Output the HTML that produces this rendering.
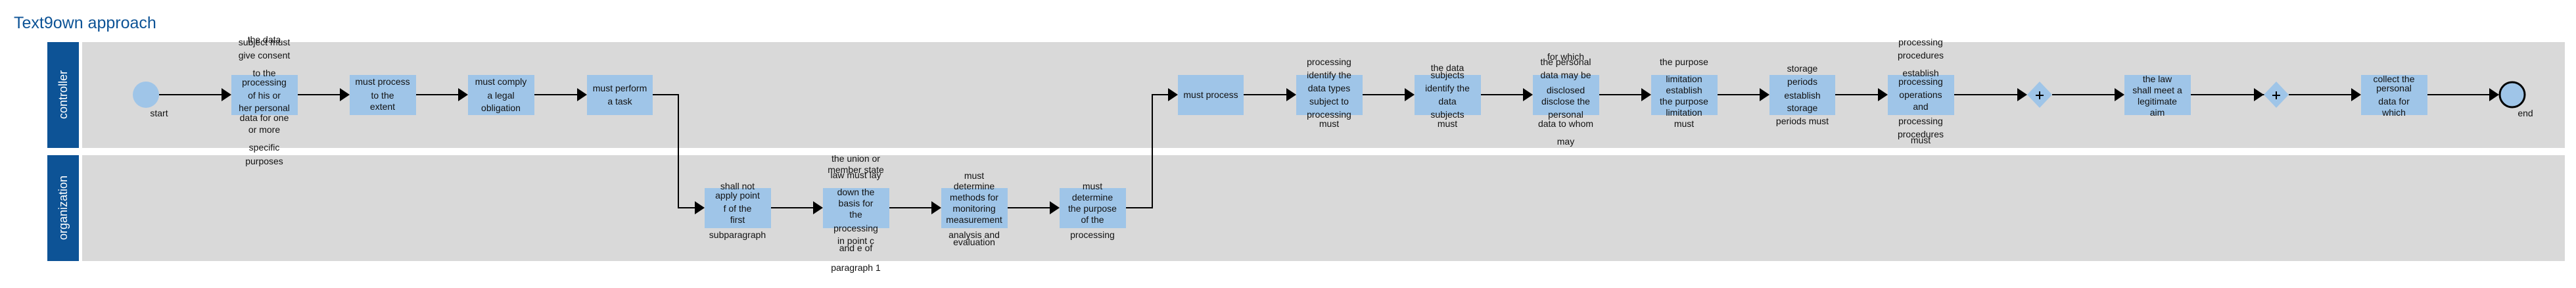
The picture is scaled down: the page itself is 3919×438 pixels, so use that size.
<!DOCTYPE html>
<html><head><meta charset="utf-8"><style>
html,body{margin:0;padding:0;background:#fff;}
svg{display:block;}
text{font-family:"Liberation Sans",Arial,sans-serif;}
.t{font-size:14px;fill:#111;text-anchor:middle;dominant-baseline:central;}
</style></head><body>
<svg width="3919" height="438" viewBox="0 0 3919 438" xmlns="http://www.w3.org/2000/svg">
<text x="21" y="43" font-size="25" fill="#0d5396">Text9own approach</text>
<rect x="72" y="64" width="48" height="161" fill="#0d5396"/>
<rect x="125" y="64" width="3777" height="161" fill="#d9d9d9"/>
<rect x="72" y="236" width="48" height="161" fill="#0d5396"/>
<rect x="125" y="236" width="3777" height="161" fill="#d9d9d9"/>
<text transform="translate(96,144) rotate(-90)" font-size="18" fill="#fff" text-anchor="middle" dominant-baseline="central">controller</text>
<text transform="translate(96,316) rotate(-90)" font-size="18" fill="#fff" text-anchor="middle" dominant-baseline="central">organization</text>

<g stroke="#000" stroke-width="2" fill="none">
<path d="M242 144H340"/><path d="M453 144H520"/><path d="M633 144H700"/><path d="M813 144H880"/>
<path d="M993 144H1032V316H1060"/>
<path d="M1173 316H1240"/><path d="M1353 316H1420"/><path d="M1533 316H1600"/>
<path d="M1713 316H1753V144H1780"/>
<path d="M1892 144H1960"/><path d="M2073 144H2140"/><path d="M2253 144H2320"/><path d="M2433 144H2500"/><path d="M2613 144H2680"/><path d="M2792 144H2860"/>
<path d="M2972 144H3072"/><path d="M3122 144H3220"/><path d="M3333 144H3450"/><path d="M3482 144H3580"/><path d="M3693 144H3790"/>
</g>
<g fill="#000">
<path d="M337 134L352 144L337 154Z"/><path d="M517 134L532 144L517 154Z"/><path d="M697 134L712 144L697 154Z"/><path d="M878 134L893 144L878 154Z"/>
<path d="M1057 306L1072 316L1057 326Z"/><path d="M1237 306L1252 316L1237 326Z"/><path d="M1417 306L1432 316L1417 326Z"/><path d="M1597 306L1612 316L1597 326Z"/>
<path d="M1777 134L1792 144L1777 154Z"/><path d="M1957 134L1972 144L1957 154Z"/><path d="M2137 134L2152 144L2137 154Z"/><path d="M2317 134L2332 144L2317 154Z"/><path d="M2497 134L2512 144L2497 154Z"/><path d="M2677 134L2692 144L2677 154Z"/><path d="M2857 134L2872 144L2857 154Z"/>
<path d="M3069 134L3084 144L3069 154Z"/><path d="M3217 134L3232 144L3217 154Z"/><path d="M3429 134L3444 144L3429 154Z"/><path d="M3577 134L3592 144L3577 154Z"/><path d="M3787 134L3802 144L3787 154Z"/>
</g>
<circle cx="222" cy="144" r="20" fill="#9fc5e8"/>
<circle cx="3822" cy="144" r="19" fill="#9fc5e8" stroke="#000" stroke-width="3"/>
<g fill="#9fc5e8">
<rect x="352" y="114" width="101" height="61"/><rect x="532" y="114" width="101" height="61"/><rect x="712" y="114" width="101" height="61"/><rect x="893" y="114" width="100" height="61"/>
<rect x="1072" y="286" width="101" height="61"/><rect x="1252" y="286" width="101" height="61"/><rect x="1432" y="286" width="101" height="61"/><rect x="1612" y="286" width="101" height="61"/>
<rect x="1792" y="114" width="100" height="61"/><rect x="1972" y="114" width="101" height="61"/><rect x="2152" y="114" width="101" height="61"/><rect x="2332" y="114" width="101" height="61"/><rect x="2512" y="114" width="101" height="61"/><rect x="2692" y="114" width="100" height="61"/><rect x="2872" y="114" width="101" height="61"/>
<rect x="3232" y="114" width="101" height="61"/><rect x="3592" y="114" width="101" height="61"/>
<path d="M3103 124L3122 144L3103 164L3084 144Z"/><path d="M3463 124L3482 144L3463 164L3444 144Z"/>
</g>
<g stroke="#000" stroke-width="2"><path d="M3097 145H3109M3103 139V151"/><path d="M3457 145H3469M3463 139V151"/></g>

<g class="t">
<text class="t" x="242" y="172">start</text>
<text class="t" x="3842" y="172">end</text>
<text class="t" x="402" y="60">the data</text><text class="t" x="402" y="64">subject must</text><text class="t" x="402" y="84">give consent</text><text class="t" x="402" y="111">to the</text><text class="t" x="402" y="125">processing</text><text class="t" x="402" y="145">of his or</text><text class="t" x="402" y="164">her personal</text><text class="t" x="402" y="179">data for one</text><text class="t" x="402" y="197">or more</text><text class="t" x="402" y="224">specific</text><text class="t" x="402" y="245">purposes</text>
<text class="t" x="582" y="124">must process</text><text class="t" x="582" y="145">to the</text><text class="t" x="582" y="162">extent</text>
<text class="t" x="762" y="124">must comply</text><text class="t" x="762" y="145">a legal</text><text class="t" x="762" y="164">obligation</text>
<text class="t" x="943" y="134">must perform</text><text class="t" x="943" y="154">a task</text>
<text class="t" x="1122" y="283">shall not</text><text class="t" x="1122" y="297">apply point</text><text class="t" x="1122" y="317">f of the</text><text class="t" x="1122" y="334">first</text><text class="t" x="1122" y="357">subparagraph</text>
<text class="t" x="1302" y="241">the union or</text><text class="t" x="1302" y="258">member state</text><text class="t" x="1302" y="266">law must lay</text><text class="t" x="1302" y="292">down the</text><text class="t" x="1302" y="309">basis for</text><text class="t" x="1302" y="326">the</text><text class="t" x="1302" y="347">processing</text><text class="t" x="1302" y="366">in point c</text><text class="t" x="1302" y="377">and e of</text><text class="t" x="1302" y="407">paragraph 1</text>
<text class="t" x="1482" y="267">must</text><text class="t" x="1482" y="283">determine</text><text class="t" x="1482" y="300">methods for</text><text class="t" x="1482" y="317">monitoring</text><text class="t" x="1482" y="334">measurement</text><text class="t" x="1482" y="357">analysis and</text><text class="t" x="1482" y="368">evaluation</text>
<text class="t" x="1662" y="283">must</text><text class="t" x="1662" y="300">determine</text><text class="t" x="1662" y="317">the purpose</text><text class="t" x="1662" y="334">of the</text><text class="t" x="1662" y="357">processing</text>
<text class="t" x="1842" y="144">must process</text>
<text class="t" x="2022" y="94">processing</text><text class="t" x="2022" y="114">identify the</text><text class="t" x="2022" y="134">data types</text><text class="t" x="2022" y="154">subject to</text><text class="t" x="2022" y="174">processing</text><text class="t" x="2022" y="188">must</text>
<text class="t" x="2202" y="103">the data</text><text class="t" x="2202" y="114">subjects</text><text class="t" x="2202" y="134">identify the</text><text class="t" x="2202" y="154">data</text><text class="t" x="2202" y="174">subjects</text><text class="t" x="2202" y="188">must</text>
<text class="t" x="2382" y="86">for which</text><text class="t" x="2382" y="94">the personal</text><text class="t" x="2382" y="114">data may be</text><text class="t" x="2382" y="137">disclosed</text><text class="t" x="2382" y="154">disclose the</text><text class="t" x="2382" y="174">personal</text><text class="t" x="2382" y="188">data to whom</text><text class="t" x="2382" y="215">may</text>
<text class="t" x="2562" y="94">the purpose</text><text class="t" x="2562" y="120">limitation</text><text class="t" x="2562" y="137">establish</text><text class="t" x="2562" y="154">the purpose</text><text class="t" x="2562" y="171">limitation</text><text class="t" x="2562" y="188">must</text>
<text class="t" x="2742" y="104">storage</text><text class="t" x="2742" y="124">periods</text><text class="t" x="2742" y="145">establish</text><text class="t" x="2742" y="164">storage</text><text class="t" x="2742" y="184">periods must</text>
<text class="t" x="2922" y="64">processing</text><text class="t" x="2922" y="84">procedures</text><text class="t" x="2922" y="111">establish</text><text class="t" x="2922" y="124">processing</text><text class="t" x="2922" y="144">operations</text><text class="t" x="2922" y="162">and</text><text class="t" x="2922" y="184">processing</text><text class="t" x="2922" y="204">procedures</text><text class="t" x="2922" y="213">must</text>
<text class="t" x="3282" y="120">the law</text><text class="t" x="3282" y="137">shall meet a</text><text class="t" x="3282" y="154">legitimate</text><text class="t" x="3282" y="171">aim</text>
<text class="t" x="3642" y="120">collect the</text><text class="t" x="3642" y="134">personal</text><text class="t" x="3642" y="154">data for</text><text class="t" x="3642" y="171">which</text>
</g>
</svg>
</body></html>
